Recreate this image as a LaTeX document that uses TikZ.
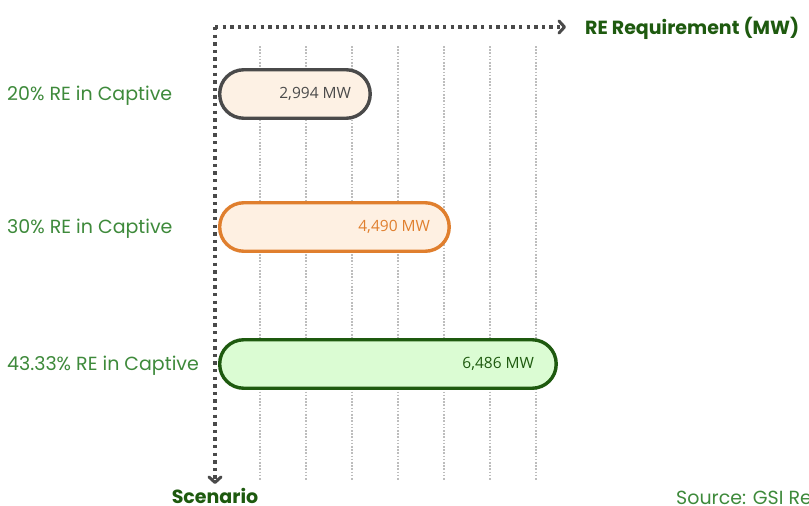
\documentclass[tikz,border=0pt]{standalone}
\usepackage{fontspec}
\setmainfont{Poppins}
\newfontfamily\valfont{Open Sans}
\usetikzlibrary{arrows.meta,positioning}
\definecolor{axisgray}{HTML}{4A4A4A}
\definecolor{gridgray}{HTML}{BDBDBD}
\definecolor{labgreen}{HTML}{3E8A3B}
\definecolor{darkgreen}{HTML}{1E5A0F}
\definecolor{orangeline}{HTML}{E07F2E}
\definecolor{creamfill}{HTML}{FDF1E4}
\definecolor{peachfill}{HTML}{FEF0E2}
\definecolor{mintfill}{HTML}{DBFCD3}
\tikzset{
  axisline/.style={draw=axisgray, line width=3.4pt, dash pattern=on 3.4pt off 4.2pt,
    -{Straight Barb[length=5.5pt,width=12pt,line width=3pt,round]}},
  gridline/.style={draw=gridgray, line width=1.1pt, dash pattern=on 1.6pt off 1.6pt},
  barbox/.style={rectangle, rounded corners=24pt, line width=3.4pt, minimum height=48.5pt,
    inner sep=0pt, outer sep=0pt, anchor=west},
  barvalue/.style={font=\valfont\fontsize{15.5}{17}\selectfont, anchor=east, inner sep=0pt},
  scenlabel/.style={font=\fontsize{19}{22}\selectfont, text=labgreen, anchor=west, inner sep=0pt},
  axistitle/.style={font=\bfseries\fontsize{19}{22}\selectfont, text=darkgreen, inner sep=0pt}
}
\begin{document}
\begin{tikzpicture}[x=1pt,y=-1pt]
  \useasboundingbox[fill=white] (0,0) rectangle (809,506);
  % gridlines
  \foreach \gx in {260,306,352,398,444,490,536}
    \draw[gridline] (\gx,46) -- (\gx,480);
  % axes
  \coordinate (origin) at (215,27);
  \coordinate (xend) at (566,27);
  \coordinate (yend) at (215,484);
  \draw[axisline] (origin) -- (xend);
  \draw[axisline] (origin) -- (yend);
  % axis titles
  \node[axistitle, anchor=west] (xtitle) at (585,28) {RE Requirement (MW)};
  \node[axistitle] (ytitle) at (215,496) {Scenario};
  % bars
  \node[barbox, draw=axisgray, fill=creamfill, minimum width=150.5pt] (bar1) at (219.7,94) {};
  \node[barbox, draw=orangeline, fill=peachfill, minimum width=229.5pt] (bar2) at (219.7,227) {};
  \node[barbox, draw=darkgreen, fill=mintfill, minimum width=336.5pt] (bar3) at (219.7,364) {};
  % values
  \node[barvalue, text=axisgray] (val1) at ([xshift=-19pt]bar1.east) {2,994 MW};
  \node[barvalue, text=orangeline] (val2) at ([xshift=-19pt]bar2.east) {4,490 MW};
  \node[barvalue, text=darkgreen] (val3) at ([xshift=-22pt]bar3.east) {6,486 MW};
  % scenario labels
  \node[scenlabel] (lab1) at (7,96) {20\% RE in Captive};
  \node[scenlabel] (lab2) at (7,229) {30\% RE in Captive};
  \node[scenlabel] (lab3) at (7,366) {43.33\% RE in Captive};
  % source
  \node[scenlabel] (source) at (676,498) {Source: GSI Re};
\end{tikzpicture}
\end{document}
